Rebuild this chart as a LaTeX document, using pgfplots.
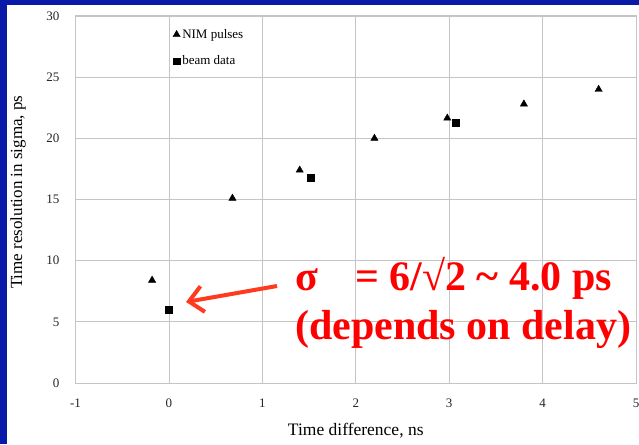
\documentclass[border=0pt]{standalone}
\usepackage{pgfplots}
\pgfplotsset{compat=1.18}
\usepackage{fontspec}
\setmainfont{Liberation Serif}
\usetikzlibrary{arrows.meta}
\definecolor{slideblue}{HTML}{0A1AA8}
\definecolor{gridgray}{HTML}{C4C4C4}
\definecolor{arrowred}{HTML}{FF3A1E}
\definecolor{notered}{HTML}{FF0000}

\begin{document}
\begin{tikzpicture}[x=1pt,y=1pt]
\useasboundingbox (0,0) rectangle (639,444);
\fill[white] (0,0) rectangle (639,444);
\fill[slideblue] (0,0) rectangle (7,444);
\fill[slideblue] (0,439) rectangle (639,444);

\begin{axis}[
    at={(75.5pt,61pt)},
    anchor=south west,
    scale only axis,
    width=560.5pt,
    height=367pt,
    xmin=-1, xmax=5,
    ymin=0, ymax=30,
    xtick={-1,0,...,5},
    ytick={0,5,...,30},
    grid=major,
    grid style={draw=gridgray,line width=0.8pt},
    axis line style={draw=gridgray,line width=1pt},
    major tick length=0pt,
    /pgf/number format/assume math mode=true,
    tick label style={font=\fontsize{13}{15}\selectfont,text=black!85,inner sep=0pt},
    yticklabel style={anchor=east,xshift=-16pt},
    xticklabel style={anchor=north,yshift=-16pt},
    xlabel={Time difference, ns},
    ylabel={Time resolution in sigma, ps},
    every axis x label/.style={at={(axis description cs:0.5,-0.131)},anchor=center,
        font=\fontsize{17.5}{20}\selectfont},
    every axis y label/.style={at={(axis description cs:-0.1026,0.52)},rotate=90,anchor=center,
        font=\fontsize{17}{20}\selectfont},
    legend style={at={(axis description cs:0.17,0.975)},anchor=north west,
        draw=none,fill=none,font=\fontsize{13}{15}\selectfont,
        row sep=12pt,inner sep=2pt},
    legend cell align=left,
    legend image code/.code={\draw[#1] (0pt,0pt) -- plot coordinates {(0pt,0pt)};},
]
\addplot[only marks,mark=triangle*,mark size=4.2pt,black]
    coordinates {(-0.18,8.4) (0.68,15.1) (1.40,17.4) (2.20,20.0) (2.98,21.65) (3.80,22.8) (4.60,24.0)};
\addlegendentry{NIM pulses}
\addplot[only marks,mark=square*,mark size=3.4pt,black]
    coordinates {(0.0,6.0) (1.52,16.8) (3.07,21.3)};
\addlegendentry{beam data}
\end{axis}

\draw[arrowred,line width=4pt,-{Straight Barb[length=14pt,width=26pt,line width=4pt]}]
    (277,158) -- (186,142);
\node[anchor=base west,inner sep=0pt,text=notered,font=\fontsize{42}{46}\bfseries\selectfont]
    at (295,153) {σ};
\node[anchor=base west,inner sep=0pt,text=notered,font=\fontsize{42}{46}\bfseries\selectfont]
    at (355,153) {= 6/√2 \textasciitilde{} 4.0 ps};
\node[anchor=base west,inner sep=0pt,text=notered,font=\fontsize{42}{46}\bfseries\selectfont]
    at (295,104) {(depends on delay)};
\end{tikzpicture}
\end{document}
